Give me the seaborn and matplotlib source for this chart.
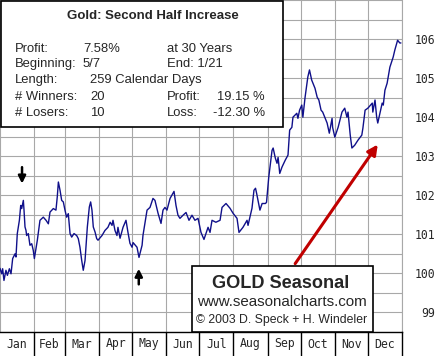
import numpy as np
import pandas as pd
import matplotlib
matplotlib.use("Agg")
import matplotlib.pyplot as plt
from matplotlib.patches import Rectangle
import seaborn as sns

# seasonal pattern, day of year vs index
days = [0, 1.5, 2.4, 3.6, 5.4, 6.7, 8.5, 10, 11.5, 13.6, 14.5, 15.7, 17.6, 18.8, 19.7,
        21.2, 21.8, 22.7, 23.6, 24.2, 25.7, 27.2, 28.8, 30.2, 31.2, 32.4, 33.9, 36.3,
        37.8, 39.3, 41.8, 43.9, 45.4, 48.4, 50.8, 52, 53, 54.5, 56, 57.5, 59, 60.5, 62,
        63.6, 65.1, 67.2, 69.6, 71.1, 72.6, 74.2, 75.6, 77.2, 79.3, 81.1, 82.3, 83.5,
        84.7, 86.3, 87.8,
        89, 92.6, 95.3, 98, 100, 101.7, 102.6, 104.4, 106.2, 107.1, 109, 111.7, 114.4,
        116.2, 118, 119.9, 120.8, 124.4, 126.2, 129, 129.8, 133.5, 136.2, 138.9, 140.7,
        143.5, 146.2, 148, 149.8, 151.6, 154.4, 158, 159.8, 161.6, 163.4, 166.2, 168.9,
        171.6, 174.3, 177, 179.8, 182.5, 185.2, 188.9, 190.7, 192.5, 196, 199.8, 201.6,
        205.2, 208.8, 211.6, 215.2, 217, 220.6, 224.3, 225.2, 228.8, 230.6,
        232, 233, 236, 238, 241, 242, 244, 247, 248, 250, 251.5, 252.5, 254, 256, 259,
        261.5, 263, 265, 266, 269.5, 270.5, 272, 274, 275, 277, 279.5, 281, 283, 286,
        288, 289.5, 291.5, 293, 297, 299, 301.5, 302, 304, 307, 310.5, 313, 315, 316,
        318, 319.5, 322, 325, 328.5, 329.5, 331.5, 334, 338, 338.5, 340.5, 342, 343,
        347, 348, 349.5, 351.5, 354, 357, 358.5, 361, 363, 364]
values = [100.13, 99.99, 100.12, 99.82, 100.08, 99.95, 100.12, 99.99, 100.38, 100.5, 100.42,
          101.02, 101.36, 101.74, 101.66, 101.87, 101.62, 101.19, 101.1, 100.97, 101.02,
          100.72, 100.76, 100.59, 100.38, 100.59, 100.85, 101.36, 101.4, 101.44, 101.36,
          101.27, 101.57, 101.66, 101.62, 101.96, 102.34, 102.13, 101.87, 101.83, 101.62,
          101.44, 101.53, 101.02, 100.93, 101.02, 100.97, 100.89, 100.67, 100.33, 100.08,
          100.33, 101.19, 101.7, 101.83, 101.62, 101.19, 101.06, 100.89,
          100.85, 100.97, 101.10, 101.18, 101.31, 101.23, 101.36, 101.10, 100.97, 101.18,
          100.90, 101.18, 101.36, 101.05, 100.77, 100.67, 100.79, 100.67, 100.41, 100.72,
          100.97, 101.62, 101.69, 101.92, 101.87, 101.54, 101.28, 101.62, 101.69, 101.62,
          101.92, 102.10, 101.74, 101.49, 101.41, 101.49, 101.56, 101.36, 101.49, 101.36,
          101.41, 101.05, 100.87, 101.18, 101.05, 101.36, 101.31, 101.36, 101.69, 101.79,
          101.67, 101.54, 101.41, 101.05, 101.18, 101.36, 101.23, 101.67, 102.13,
          102.18, 102.05, 101.62, 101.79, 101.79, 101.82, 102.46, 103.15, 103.21, 102.95,
          102.82, 102.97, 102.56, 102.72, 102.90, 103.03, 103.67, 103.74, 104.0, 104.10,
          103.97, 104.18, 104.31, 104.0, 104.51, 105.03, 105.21, 104.95, 104.74, 104.51,
          104.44, 104.18, 104.13, 103.85, 103.59, 103.97, 103.74, 103.49, 103.74, 104.13,
          104.23, 104.0, 104.13, 103.54, 103.21, 103.28, 103.41, 103.54, 103.72, 104.18,
          104.23, 104.36, 104.13, 104.44, 104.0, 103.85, 104.36, 104.31, 104.69, 104.87,
          105.28, 105.54, 105.72, 105.97, 105.90, 105.9]

months = ["Jan", "Feb", "Mar", "Apr", "May", "Jun", "Jul", "Aug", "Sep", "Oct", "Nov", "Dec"]
month_edges = [0, 31, 59, 90, 120, 151, 181, 212, 243, 273, 304, 334, 365]
ytick_vals = [99, 100, 101, 102, 103, 104, 105, 106]

stats_rows = [
    ("Profit:", "7.58%", "at 30 Years", ""),
    ("Beginning:", "5/7", "End: 1/21", ""),
    ("Length:", "259 Calendar Days", "", ""),
    ("# Winners:", "20", "Profit:", "19.15 %"),
    ("# Losers:", "10", "Loss:", "-12.30 %"),
]

W, H = 445, 356
def fx(x):
    return x / W
def fy(y):
    return 1 - y / H

sns.set_style("white")
plt.rcParams["font.family"] = ["Liberation Sans", "DejaVu Sans"]

fig = plt.figure(figsize=(4.45, 3.56), dpi=100)
ax = fig.add_axes([0, fy(332), fx(402), 1 - fy(332)])

df = pd.DataFrame({"day": days, "value": values})
sns.lineplot(data=df, x="day", y="value", ax=ax, color="#10108a", linewidth=1.0)

ax.set_xlim(0, 365)
ax.set_ylim(98.5, 107)
ax.set_xticks(month_edges)
ax.set_xticklabels([])
ax.set_yticks(ytick_vals)
ax.set_yticks(np.arange(98.5, 107.01, 0.5), minor=True)
ax.yaxis.tick_right()
ax.tick_params(axis="both", which="both", length=0)
ax.tick_params(axis="y", pad=24)
ax.set_yticklabels([str(v) for v in ytick_vals], family="DejaVu Sans Mono", fontsize=8.3, ha="right")
ax.grid(True, which="both", color="#a8a8a8", linewidth=0.8)
ax.set_xlabel("")
ax.set_ylabel("")
for s in ["top", "left", "bottom"]:
    ax.spines[s].set_visible(False)
ax.spines["right"].set_color("#a8a8a8")
ax.spines["right"].set_linewidth(0.8)

# markers
ax.annotate("", xy=(20, 102.3), xytext=(20, 102.72),
            arrowprops=dict(arrowstyle="-|>", color="black", lw=1.8, mutation_scale=11,
                            shrinkA=0, shrinkB=0))
ax.annotate("", xy=(126, 100.12), xytext=(126, 99.72),
            arrowprops=dict(arrowstyle="-|>", color="black", lw=1.8, mutation_scale=11,
                            shrinkA=0, shrinkB=0))
ax.annotate("", xy=(343, 103.3), xytext=(268, 100.25),
            arrowprops=dict(arrowstyle="-|>", color="#c00000", lw=2.2, mutation_scale=15,
                            shrinkA=0, shrinkB=0))

# month strip
sx = fig.add_axes([0, 0, fx(402), fy(332)])
sx.set_xlim(0, 365)
sx.set_ylim(0, 1)
for e in month_edges[1:-1]:
    sx.axvline(e, color="black", linewidth=1.0)
for i, m in enumerate(months):
    c = (month_edges[i] + month_edges[i + 1]) / 2
    sx.text(c, 0.5, m, ha="center", va="center", family="DejaVu Sans Mono", fontsize=8.3)
sx.set_xticks([])
sx.set_yticks([])
sx.spines["left"].set_visible(False)
sx.spines["bottom"].set_visible(False)
for s in ["top", "right"]:
    sx.spines[s].set_color("black")
    sx.spines[s].set_linewidth(1.0)

# statistics box
fig.add_artist(Rectangle((fx(0.5), fy(127)), fx(282.5), fy(0.8) - fy(127), transform=fig.transFigure,
                         facecolor="white", edgecolor="black", linewidth=1.2, zorder=5))
fig.text(fx(153), fy(16), "Gold: Second Half Increase", ha="center", va="center",
         fontsize=9.5, fontweight="bold", zorder=6)
row_y = [49, 64, 80.5, 96.5, 112.5]
for (a, b, c, d), yy in zip(stats_rows, row_y):
    fig.text(fx(15), fy(yy), a, ha="left", va="center", fontsize=9.4, zorder=6)
    bx = 83 if b in ("7.58%", "5/7") else 90
    fig.text(fx(bx), fy(yy), b, ha="left", va="center", fontsize=9.4, zorder=6)
    if c:
        fig.text(fx(167), fy(yy), c, ha="left", va="center", fontsize=9.4, zorder=6)
    if d:
        fig.text(fx(265), fy(yy), d, ha="right", va="center", fontsize=9.4, zorder=6)

# logo box
fig.add_artist(Rectangle((fx(192), fy(332)), fx(373) - fx(192), fy(266) - fy(332), transform=fig.transFigure,
                         facecolor="white", edgecolor="black", linewidth=1.2, zorder=5))
fig.text(fx(281), fy(283), "GOLD Seasonal", ha="center", va="center", fontsize=13.1,
         fontweight="bold", zorder=6)
fig.text(fx(282), fy(302), "www.seasonalcharts.com", ha="center", va="center", fontsize=10.9, zorder=6)
fig.text(fx(282), fy(320), "\u00a9 2003 D. Speck + H. Windeler", ha="center", va="center", fontsize=8.8, zorder=6)

fig.savefig("out.png", dpi=100)
